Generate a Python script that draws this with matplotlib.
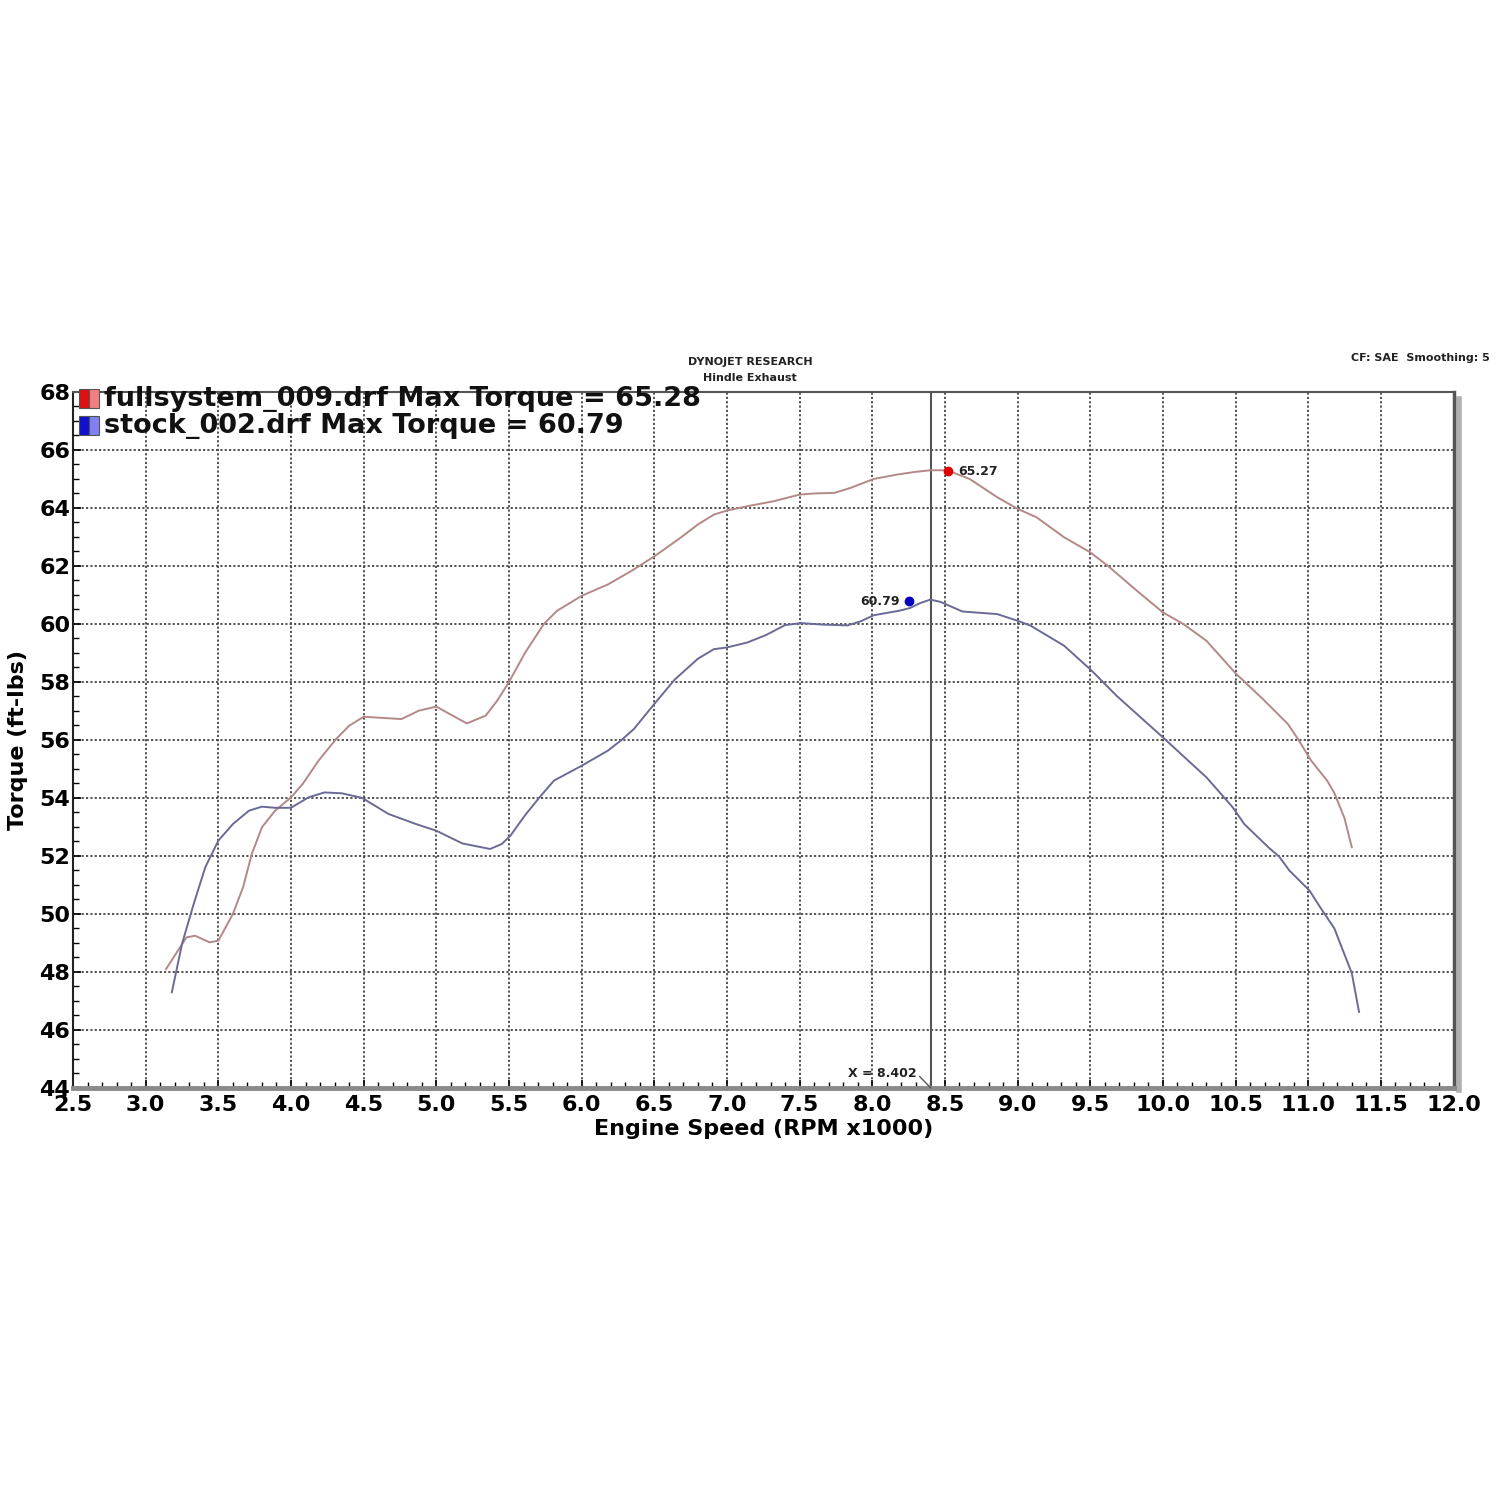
import matplotlib
matplotlib.use("Agg")
import matplotlib.pyplot as plt
from matplotlib.ticker import MultipleLocator
from matplotlib.patches import Rectangle

# ---- data (RPM x1000, torque ft-lbs) ----
full_rpm = [3.14, 3.28, 3.34, 3.44, 3.50, 3.60, 3.67, 3.73, 3.80, 3.89, 4.00, 4.08, 4.19,
            4.31, 4.40, 4.50, 4.63, 4.76, 4.88, 5.00, 5.09, 5.21, 5.34, 5.42, 5.50, 5.61,
            5.74, 5.83, 6.00, 6.18, 6.34, 6.50, 6.68, 6.80, 6.91, 7.00, 7.14, 7.32, 7.50,
            7.60, 7.74, 7.85, 8.01, 8.17, 8.29, 8.40, 8.50, 8.53, 8.67, 8.86, 9.00, 9.13,
            9.32, 9.50, 9.62, 9.82, 10.00, 10.14, 10.30, 10.50, 10.69, 10.86, 10.93, 11.02,
            11.13, 11.18, 11.25, 11.30]
full_tq = [48.1, 49.19, 49.25, 49.02, 49.08, 50.0, 50.92, 52.07, 52.99, 53.56, 54.02, 54.48,
           55.29, 56.03, 56.49, 56.8, 56.76, 56.72, 57.01, 57.15, 56.9, 56.57, 56.84, 57.36,
           58.0, 59.0, 60.0, 60.45, 60.97, 61.36, 61.82, 62.33, 62.97, 63.43, 63.77, 63.91,
           64.06, 64.23, 64.46, 64.5, 64.52, 64.69, 65.0, 65.15, 65.24, 65.3, 65.3, 65.27,
           65.0, 64.37, 63.97, 63.68, 62.99, 62.47, 62.01, 61.15, 60.4, 60.0, 59.42, 58.3,
           57.4, 56.55, 56.03, 55.29, 54.6, 54.17, 53.3, 52.3]

stock_rpm = [3.18, 3.25, 3.33, 3.41, 3.50, 3.60, 3.71, 3.80, 3.89, 4.00, 4.12, 4.23, 4.35,
             4.49, 4.67, 4.86, 5.00, 5.18, 5.37, 5.45, 5.51, 5.61, 5.71, 5.81, 6.00, 6.18,
             6.27, 6.36, 6.50, 6.64, 6.80, 6.91, 7.00, 7.14, 7.27, 7.40, 7.51, 7.65, 7.83,
             7.92, 8.01, 8.19, 8.26, 8.33, 8.40, 8.47, 8.62, 8.86, 9.00, 9.09, 9.32, 9.51,
             9.68, 10.00, 10.30, 10.48, 10.56, 10.73, 10.80, 10.87, 11.01, 11.08, 11.18,
             11.25, 11.30, 11.35]
stock_tq = [47.3, 48.97, 50.34, 51.61, 52.53, 53.1, 53.56, 53.7, 53.66, 53.66, 54.02, 54.19,
            54.16, 54.0, 53.45, 53.1, 52.87, 52.43, 52.24, 52.41, 52.7, 53.4, 54.02, 54.6,
            55.11, 55.63, 55.98, 56.38, 57.24, 58.08, 58.8, 59.13, 59.19, 59.36, 59.62, 59.96,
            60.03, 59.98, 59.95, 60.09, 60.3, 60.46, 60.55, 60.72, 60.84, 60.76, 60.43, 60.34,
            60.11, 59.94, 59.25, 58.39, 57.53, 56.09, 54.71, 53.68, 53.1, 52.28, 51.98, 51.5,
            50.8, 50.25, 49.5, 48.6, 47.96, 46.62]

series_names = ["fullsystem_009.drf Max Torque = 65.28", "stock_002.drf Max Torque = 60.79"]
peak_full = (8.52, 65.27)
peak_stock = (8.25, 60.79)
cursor_x = 8.402

x_ticks = [2.5 + 0.5 * i for i in range(20)]
y_ticks = list(range(44, 69, 2))

red_c = "#b48888"
blue_c = "#6a6a96"

fig = plt.figure(figsize=(15, 15), dpi=100)
ax = fig.add_axes([0.0487, 0.2747, 0.9203, 0.464])
ax.set_xlim(2.5, 12.0)
ax.set_ylim(44, 68)

ax.plot(full_rpm, full_tq, color=red_c, lw=1.4, zorder=3, solid_joinstyle="round")
ax.plot(stock_rpm, stock_tq, color=blue_c, lw=1.4, zorder=3, solid_joinstyle="round")

ax.set_xticks(x_ticks)
ax.set_xticklabels([f"{v:.1f}" for v in x_ticks])
ax.set_yticks(y_ticks)
ax.xaxis.set_minor_locator(MultipleLocator(0.1))
ax.yaxis.set_minor_locator(MultipleLocator(0.5))
ax.grid(True, which="major", color="#444444", ls=(0, (1.2, 1.2)), lw=1.3, zorder=1)
ax.tick_params(axis="x", which="major", labelsize=16, length=6, width=1.2, direction="in",
               pad=5)
ax.tick_params(axis="y", which="major", labelsize=16, length=6, width=1.2, direction="in",
               pad=2)
ax.tick_params(axis="both", which="minor", length=4, width=1, direction="in")
for lab in ax.get_xticklabels() + ax.get_yticklabels():
    lab.set_fontweight("bold")

ax.spines["left"].set_color("#222222")
ax.spines["left"].set_linewidth(1.5)
ax.spines["bottom"].set_color("#8a8a8a")
ax.spines["bottom"].set_linewidth(3.5)
ax.spines["top"].set_color("#555555")
ax.spines["top"].set_linewidth(1.5)
ax.spines["right"].set_color("#555555")
ax.spines["right"].set_linewidth(2.5)
# shadow on the right side
ax.plot([1.004, 1.004], [-0.003, 0.99], transform=ax.transAxes, color="#b0b0b0", lw=4,
        clip_on=False, zorder=0)

ax.set_xlabel("Engine Speed (RPM x1000)", fontsize=16, fontweight="bold", labelpad=3)
ax.set_ylabel("Torque (ft-lbs)", fontsize=16, fontweight="bold", labelpad=8)

# cursor line
ax.axvline(cursor_x, color="#555555", lw=1.5, zorder=2)
ax.annotate(f"X = {cursor_x:.3f}", xy=(cursor_x, 44), xytext=(8.07, 44.5),
            fontsize=9, fontweight="bold", color="#222222", va="center", ha="center",
            arrowprops=dict(arrowstyle="-", color="#555555", lw=1,
                            shrinkA=0, shrinkB=0, relpos=(1.0, 0.5)))

# peak markers
ax.plot(*peak_full, "o", color="#e00000", ms=6, zorder=4)
ax.text(peak_full[0] + 0.07, peak_full[1], f"{peak_full[1]:.2f}", fontsize=9,
        fontweight="bold", va="center", ha="left", color="#222222")
ax.plot(*peak_stock, "o", color="#0000c0", ms=6, zorder=4)
ax.text(peak_stock[0] - 0.06, peak_stock[1], f"{peak_stock[1]:.2f}", fontsize=9,
        fontweight="bold", va="center", ha="right", color="#222222")

# legend
leg_y = [0.734, 0.716]
leg_cols = [("#e01010", "#f08080"), ("#1010d0", "#8080f0")]
for ty, name, (c1, c2) in zip(leg_y, series_names, leg_cols):
    fig.patches.append(Rectangle((0.0527, ty - 0.006), 0.0065, 0.0125, transform=fig.transFigure,
                                 facecolor=c1, edgecolor="#555555", lw=0.8))
    fig.patches.append(Rectangle((0.0592, ty - 0.006), 0.0065, 0.0125, transform=fig.transFigure,
                                 facecolor=c2, edgecolor="#555555", lw=0.8))
    fig.text(0.069, ty, name, fontsize=19.5, fontweight="bold", va="center", ha="left",
             color="#111111")

# header texts
fig.text(0.5, 0.7587, "DYNOJET RESEARCH", fontsize=8, fontweight="bold", ha="center",
         va="center", color="#222222")
fig.text(0.5, 0.748, "Hindle Exhaust", fontsize=8, fontweight="bold", ha="center",
         va="center", color="#222222")
fig.text(0.993, 0.7613, "CF: SAE  Smoothing: 5", fontsize=8, fontweight="bold", ha="right",
         va="center", color="#222222")

fig.savefig("out.png", dpi=100, facecolor="white")
